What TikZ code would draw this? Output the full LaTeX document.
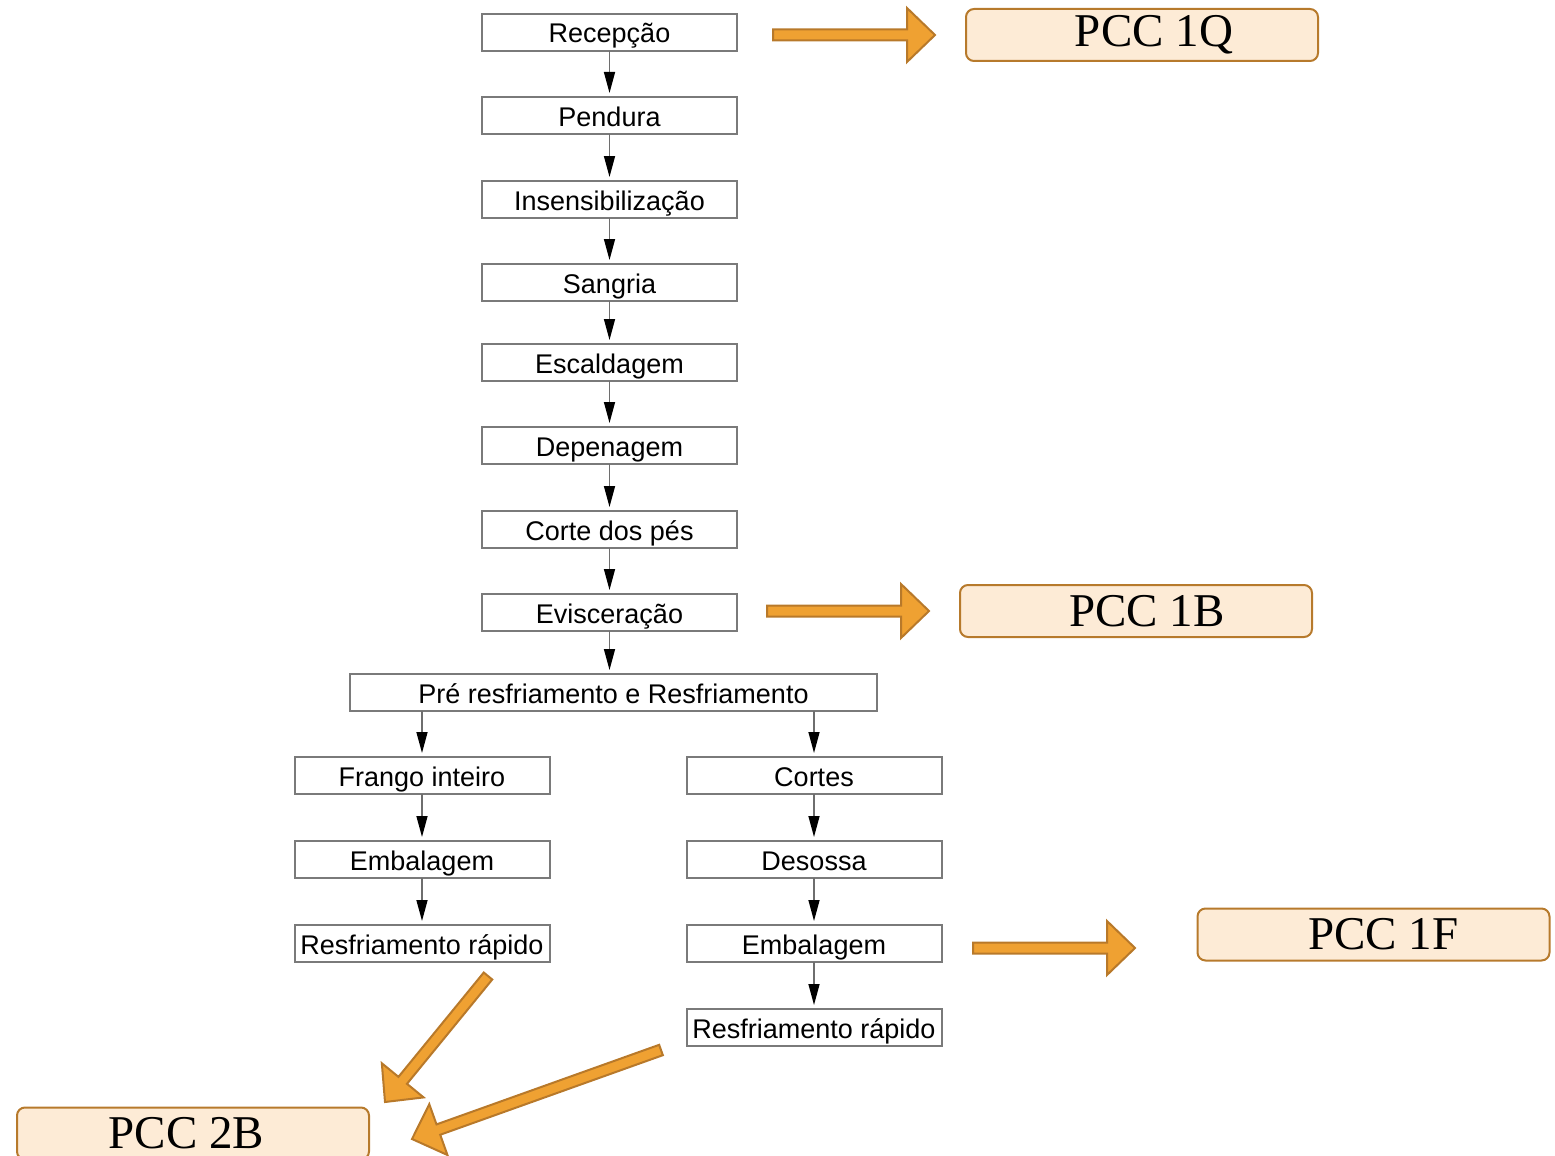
\documentclass[tikz,border=0pt]{standalone}
\usepackage{fontspec}
\setmainfont{Liberation Sans}
\newfontfamily\pccfont{Liberation Serif}
\usetikzlibrary{arrows.meta,calc}

\definecolor{pccfill}{HTML}{FDEBD6}
\definecolor{pccline}{HTML}{B77A2C}
\definecolor{arrowfill}{HTML}{EFA132}
\definecolor{arrowline}{HTML}{B8792A}
\definecolor{boxline}{HTML}{7A7A7A}
\definecolor{flowline}{HTML}{6E6E6E}

\tikzset{
  stepbox/.style={draw=boxline, line width=2pt, fill=white,
    minimum width=255pt, minimum height=37pt, inner sep=0pt, outer sep=0pt,
    text height=24pt, text depth=3pt,
    font=\fontsize{27}{30}\selectfont},
  pccbox/.style={draw=pccline, line width=2pt, fill=pccfill, rounded corners=8pt,
    minimum width=352pt, minimum height=52pt, inner sep=0pt, outer sep=0pt,
    font=\pccfont\fontsize{47}{50}\selectfont},
  flow/.style={draw=flowline, line width=1.5pt, shorten >=4pt,
    -{Triangle[length=21pt,width=11pt,color=black,fill=black]}},
  blockarrow/.style={fill=arrowfill, draw=arrowline, line width=2pt, line join=miter},
}

% fat orange arrow from #1 to the tip #2
\newcommand\pccarrow[2]{%
  \coordinate (hb) at ($(#2)!28pt!(#1)$);
  \path[blockarrow]
    ($(#1)!5.5pt!90:(#2)$) -- ($(hb)!5.5pt!90:(#2)$) -- ($(hb)!27pt!90:(#2)$)
    -- (#2) -- ($(hb)!27pt!-90:(#2)$) -- ($(hb)!5.5pt!-90:(#2)$)
    -- ($(#1)!5.5pt!-90:(#2)$) -- cycle;}

\begin{document}
\begin{tikzpicture}[x=1pt, y=-1pt]
\useasboundingbox (0,0) rectangle (1555,1156);

% main line
\node[stepbox] (rec) at (609.5,32.5) {Recepção};
\node[stepbox] (pen) at (609.5,115.5) {Pendura};
\node[stepbox] (ins) at (609.5,199.5) {Insensibilização};
\node[stepbox] (san) at (609.5,282.5) {Sangria};
\node[stepbox] (esc) at (609.5,362.5) {Escaldagem};
\node[stepbox] (dep) at (609.5,445.5) {Depenagem};
\node[stepbox] (cor) at (609.5,529.5) {Corte dos pés};
\node[stepbox] (evi) at (609.5,612.5) {Evisceração};
\node[stepbox, minimum width=527pt] (pre) at (613.5,692.5) {Pré resfriamento e Resfriamento};

% whole bird branch
\node[stepbox] (fra) at (422,775.5) {Frango inteiro};
\node[stepbox] (emb1) at (422,859.5) {Embalagem};
\node[stepbox] (res1) at (422,943.5) {Resfriamento rápido};

% cuts branch
\node[stepbox] (cts) at (814,775.5) {Cortes};
\node[stepbox] (des) at (814,859.5) {Desossa};
\node[stepbox] (emb2) at (814,943.5) {Embalagem};
\node[stepbox] (res2) at (814,1027.5) {Resfriamento rápido};

% flow connectors
\draw[flow] (rec) -- (pen);
\draw[flow] (pen) -- (ins);
\draw[flow] (ins) -- (san);
\draw[flow] (san) -- (esc);
\draw[flow] (esc) -- (dep);
\draw[flow] (dep) -- (cor);
\draw[flow] (cor) -- (evi);
\draw[flow] (evi) -- (evi |- pre.north);
\draw[flow] (pre.south -| fra) -- (fra);
\draw[flow] (pre.south -| cts) -- (cts);
\draw[flow] (fra) -- (emb1);
\draw[flow] (emb1) -- (res1);
\draw[flow] (cts) -- (des);
\draw[flow] (des) -- (emb2);
\draw[flow] (emb2) -- (res2);

% critical control points
\node[pccbox] (q1) at (1142,35) {\hspace*{24pt}PCC 1Q};
\node[pccbox] (b1) at (1136,611) {\hspace*{22pt}PCC 1B};
\node[pccbox] (f1) at (1373.5,934.5) {\hspace*{20pt}PCC 1F};
\node[pccbox] (b2) at (193,1133.5) {PCC 2B\hspace*{13pt}};

% orange pointers
\coordinate (a1s) at (773,35);    \coordinate (a1e) at (935,35);
\coordinate (a2s) at (767,611);   \coordinate (a2e) at (929,611);
\coordinate (a3s) at (973,948);   \coordinate (a3e) at (1135,948);
\coordinate (a4s) at (488,976);   \coordinate (a4e) at (385,1102);
\coordinate (a5s) at (661,1050);  \coordinate (a5e) at (412,1139);
\pccarrow{a1s}{a1e}
\pccarrow{a2s}{a2e}
\pccarrow{a3s}{a3e}
\pccarrow{a4s}{a4e}
\pccarrow{a5s}{a5e}
\end{tikzpicture}
\end{document}
